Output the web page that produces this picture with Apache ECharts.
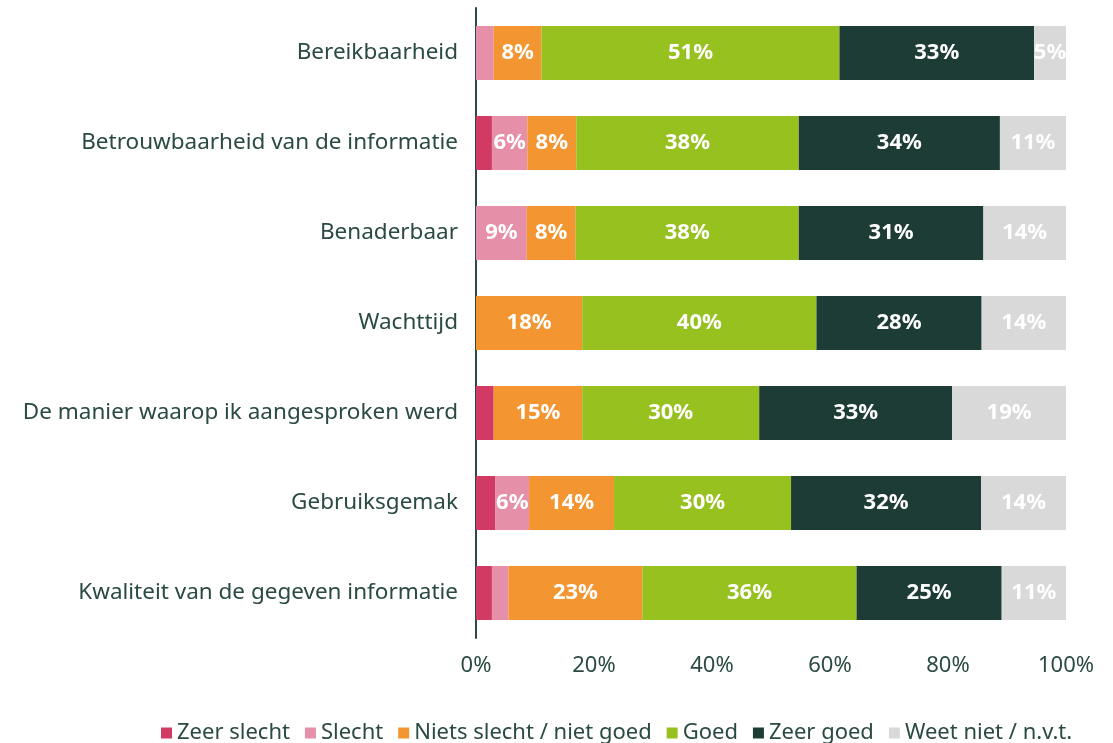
<!DOCTYPE html>
<html>
<head>
<meta charset="utf-8">
<script src="https://cdn.jsdelivr.net/npm/echarts@6/dist/echarts.min.js"></script>
<style>
  html, body { margin: 0; padding: 0; background: #fff; }
  #chart { width: 1113px; height: 743px; }
</style>
</head>
<body>
<div id="chart"></div>
<script>
// vragen (van boven naar beneden)
var categories = [
  'Bereikbaarheid',
  'Betrouwbaarheid van de informatie',
  'Benaderbaar',
  'Wachttijd',
  'De manier waarop ik aangesproken werd',
  'Gebruiksgemak',
  'Kwaliteit van de gegeven informatie'
];

var zeerSlecht = [0, 2.7, 0, 0, 3.0, 3.3, 2.7];
var slecht = [3.0, 6.0, 8.6, 0, 0, 5.7, 2.8];
var nietsSlecht = [8.1, 8.3, 8.3, 18.0, 15.0, 14.4, 22.7];
var goed = [50.5, 37.7, 37.8, 39.7, 30.0, 30.0, 36.3];
var zeerGoed = [33.0, 34.1, 31.3, 28.0, 32.7, 32.2, 24.6];
var weetNiet = [5.4, 11.2, 14.0, 14.3, 19.3, 14.4, 10.9];

var seriesNames = ['Zeer slecht', 'Slecht', 'Niets slecht / niet goed', 'Goed', 'Zeer goed', 'Weet niet / n.v.t.'];
var seriesData = [zeerSlecht, slecht, nietsSlecht, goed, zeerGoed, weetNiet];
var colors = ['#d13a63', '#e68fa8', '#f39632', '#97c11f', '#1d3c36', '#d9d9d9'];

var textColor = '#2a4a43';
var font = 'Noto Sans';

var chart = echarts.init(document.getElementById('chart'));

var series = seriesNames.map(function (name, i) {
  return {
    name: name,
    type: 'bar',
    stack: 'totaal',
    barWidth: 54,
    data: seriesData[i],
    itemStyle: { color: colors[i] },
    label: {
      show: true,
      position: 'inside',
      color: '#fff',
      fontFamily: font,
      fontWeight: 'bold',
      fontSize: 22,
      formatter: function (p) {
        return p.value >= 4.5 ? Math.round(p.value) + '%' : '';
      }
    }
  };
});

chart.setOption({
  animation: false,
  color: colors,
  grid: { left: 476, right: 47, top: 8, bottom: 105, containLabel: false },
  legend: {
    left: 156,
    bottom: -6,
    icon: 'rect',
    itemWidth: 11,
    itemHeight: 11,
    itemGap: 15,
    textStyle: { color: textColor, fontSize: 22, fontFamily: font },
    data: seriesNames
  },
  xAxis: {
    type: 'value',
    min: 0,
    max: 100,
    interval: 20,
    axisLine: { show: false },
    axisTick: { show: false },
    splitLine: { show: false },
    axisLabel: {
      formatter: '{value}%',
      color: textColor,
      fontSize: 22,
      fontFamily: font,
      margin: 17
    }
  },
  yAxis: {
    type: 'category',
    inverse: true,
    data: categories,
    axisLine: { show: true, lineStyle: { color: textColor, width: 2 } },
    axisTick: { show: false },
    axisLabel: {
      color: textColor,
      fontSize: 22.5,
      fontFamily: font,
      margin: 18
    }
  },
  series: series
});
</script>
</body>
</html>
